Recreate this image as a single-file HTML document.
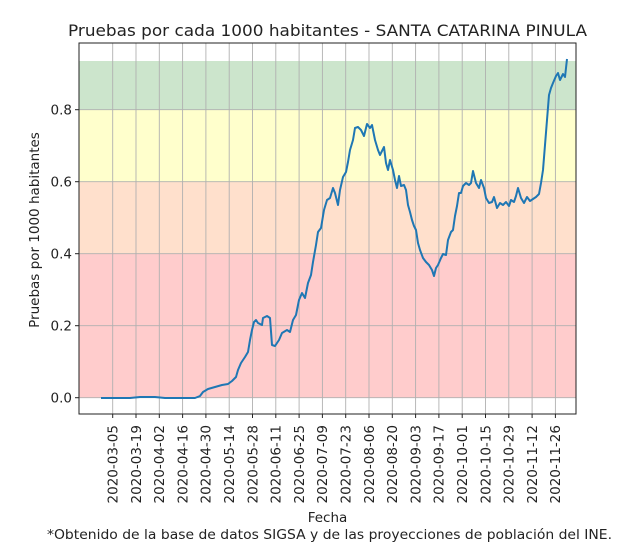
<!DOCTYPE html>
<html><head><meta charset="utf-8"><style>body{margin:0;background:#fff}svg{display:block;font-family:"DejaVu Sans","Liberation Sans",sans-serif}</style></head>
<body>
<svg width="640" height="559" viewBox="0 0 640 559">
<rect x="79" y="61" width="497" height="48.7" fill="#cce5cc"/>
<rect x="79" y="109.7" width="497" height="72" fill="#ffffcc"/>
<rect x="79" y="181.7" width="497" height="72" fill="#ffe0cc"/>
<rect x="79" y="253.7" width="497" height="144" fill="#ffcccc"/>
<g stroke="#b0b0b0" stroke-width="0.9">
<line x1="112.7" y1="43" x2="112.7" y2="414"/><line x1="136" y1="43" x2="136" y2="414"/><line x1="159.3" y1="43" x2="159.3" y2="414"/><line x1="182.6" y1="43" x2="182.6" y2="414"/><line x1="205.9" y1="43" x2="205.9" y2="414"/><line x1="229.2" y1="43" x2="229.2" y2="414"/><line x1="252.5" y1="43" x2="252.5" y2="414"/><line x1="275.8" y1="43" x2="275.8" y2="414"/><line x1="299.1" y1="43" x2="299.1" y2="414"/><line x1="322.4" y1="43" x2="322.4" y2="414"/><line x1="345.7" y1="43" x2="345.7" y2="414"/><line x1="369" y1="43" x2="369" y2="414"/><line x1="392.3" y1="43" x2="392.3" y2="414"/><line x1="415.6" y1="43" x2="415.6" y2="414"/><line x1="438.9" y1="43" x2="438.9" y2="414"/><line x1="462.2" y1="43" x2="462.2" y2="414"/><line x1="485.5" y1="43" x2="485.5" y2="414"/><line x1="508.8" y1="43" x2="508.8" y2="414"/><line x1="532.1" y1="43" x2="532.1" y2="414"/><line x1="555.4" y1="43" x2="555.4" y2="414"/>
<line x1="79" y1="397.7" x2="576" y2="397.7"/><line x1="79" y1="325.7" x2="576" y2="325.7"/><line x1="79" y1="253.7" x2="576" y2="253.7"/><line x1="79" y1="181.7" x2="576" y2="181.7"/><line x1="79" y1="109.7" x2="576" y2="109.7"/>
</g>
<polyline fill="none" stroke="#1f77b4" stroke-width="2" stroke-linejoin="round" points="101,398 130,398 140,397 155,397 165,398 195,398 200,396 203,392 208,389 215,387 222,385 228,384 232,381 236,377 238,370 241,363 245,357 248,352 250,340 252,330 254,322 256,320 258,323 262,325 263,318 267,316 270,318 272,345 275,346 279,340 282,333 287,330 290,332 293,320 296,315 299,300 302,293 305,298 308,283 311,275 313,262 316,245 318,232 321,228 324,210 327,200 330,198 333,188 335,193 338,205 340,190 343,177 346,172 348,162 350,150 353,140 355,128 358,127 361,130 364,136 367,124 370,128 372,125 375,140 378,150 380,155 384,147 386,163 388,170 390,160 393,170 395,180 397,188 399,176 401,186 404,185 406,190 408,205 410,212 412,220 414,226 416,230 418,243 420,250 423,258 426,262 429,265 432,270 434,276 436,268 438,265 441,258 443,254 446,255 448,240 451,232 453,230 455,216 457,206 459,193 461,193 463,186 466,183 469,185 471,183 473,171 476,183 479,188 481,180 484,188 486,198 489,203 492,202 494,197 497,208 500,203 503,205 506,202 509,206 511,200 514,202 516,196 518,188 521,198 524,203 527,197 530,201 533,199 536,197 539,194 541,183 543,170 545,145 547,120 549,95 551,88 553,83 556,76 558,73 560,80 563,74 565,77 567,59"/>
<rect x="79" y="43" width="497" height="371" fill="none" stroke="#222" stroke-width="1"/>
<g stroke="#222" stroke-width="1">
<line x1="75" y1="397.7" x2="79" y2="397.7"/><line x1="75" y1="325.7" x2="79" y2="325.7"/><line x1="75" y1="253.7" x2="79" y2="253.7"/><line x1="75" y1="181.7" x2="79" y2="181.7"/><line x1="75" y1="109.7" x2="79" y2="109.7"/>
</g>
<g font-size="13.5" fill="#222" text-anchor="end">
<text x="72" y="402.5">0.0</text><text x="72" y="330.5">0.2</text><text x="72" y="258.5">0.4</text><text x="72" y="186.5">0.6</text><text x="72" y="114.5">0.8</text>
</g>
<g font-size="13.5" fill="#222" text-anchor="end">
<text transform="translate(117.5,425) rotate(-90)">2020-03-05</text>
<text transform="translate(140.8,425) rotate(-90)">2020-03-19</text>
<text transform="translate(164.1,425) rotate(-90)">2020-04-02</text>
<text transform="translate(187.4,425) rotate(-90)">2020-04-16</text>
<text transform="translate(210.7,425) rotate(-90)">2020-04-30</text>
<text transform="translate(234,425) rotate(-90)">2020-05-14</text>
<text transform="translate(257.3,425) rotate(-90)">2020-05-28</text>
<text transform="translate(280.6,425) rotate(-90)">2020-06-11</text>
<text transform="translate(303.9,425) rotate(-90)">2020-06-25</text>
<text transform="translate(327.2,425) rotate(-90)">2020-07-09</text>
<text transform="translate(350.5,425) rotate(-90)">2020-07-23</text>
<text transform="translate(373.8,425) rotate(-90)">2020-08-06</text>
<text transform="translate(397.1,425) rotate(-90)">2020-08-20</text>
<text transform="translate(420.4,425) rotate(-90)">2020-09-03</text>
<text transform="translate(443.7,425) rotate(-90)">2020-09-17</text>
<text transform="translate(467,425) rotate(-90)">2020-10-01</text>
<text transform="translate(490.3,425) rotate(-90)">2020-10-15</text>
<text transform="translate(513.6,425) rotate(-90)">2020-10-29</text>
<text transform="translate(536.9,425) rotate(-90)">2020-11-12</text>
<text transform="translate(560.2,425) rotate(-90)">2020-11-26</text>
</g>
<g stroke="#222" stroke-width="1">
<line x1="112.7" y1="414" x2="112.7" y2="418"/><line x1="136" y1="414" x2="136" y2="418"/><line x1="159.3" y1="414" x2="159.3" y2="418"/><line x1="182.6" y1="414" x2="182.6" y2="418"/><line x1="205.9" y1="414" x2="205.9" y2="418"/><line x1="229.2" y1="414" x2="229.2" y2="418"/><line x1="252.5" y1="414" x2="252.5" y2="418"/><line x1="275.8" y1="414" x2="275.8" y2="418"/><line x1="299.1" y1="414" x2="299.1" y2="418"/><line x1="322.4" y1="414" x2="322.4" y2="418"/><line x1="345.7" y1="414" x2="345.7" y2="418"/><line x1="369" y1="414" x2="369" y2="418"/><line x1="392.3" y1="414" x2="392.3" y2="418"/><line x1="415.6" y1="414" x2="415.6" y2="418"/><line x1="438.9" y1="414" x2="438.9" y2="418"/><line x1="462.2" y1="414" x2="462.2" y2="418"/><line x1="485.5" y1="414" x2="485.5" y2="418"/><line x1="508.8" y1="414" x2="508.8" y2="418"/><line x1="532.1" y1="414" x2="532.1" y2="418"/><line x1="555.4" y1="414" x2="555.4" y2="418"/>
</g>
<text x="68" y="36" font-size="16" fill="#222" textLength="519" lengthAdjust="spacingAndGlyphs">Pruebas por cada 1000 habitantes - SANTA CATARINA PINULA</text>
<text transform="translate(39,230) rotate(-90)" font-size="13.5" text-anchor="middle" fill="#222">Pruebas por 1000 habitantes</text>
<text x="327.5" y="522" font-size="13.5" text-anchor="middle" fill="#222">Fecha</text>
<text x="47" y="539" font-size="13.5" fill="#222" textLength="565" lengthAdjust="spacingAndGlyphs">*Obtenido de la base de datos SIGSA y de las proyecciones de población del INE.</text>
</svg>
</body></html>
